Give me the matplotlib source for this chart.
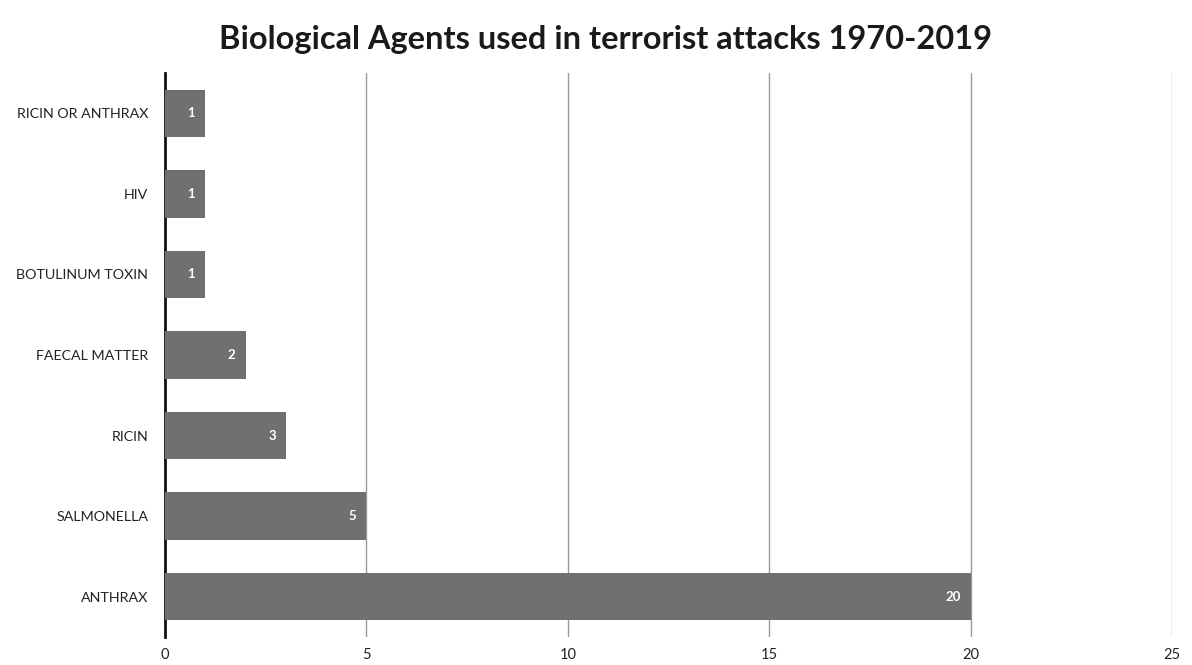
import matplotlib.pyplot as plt

# agents, bottom to top as drawn
agents = ['ANTHRAX', 'SALMONELLA', 'RICIN', 'FAECAL MATTER',
          'BOTULINUM TOXIN', 'HIV', 'RICIN OR ANTHRAX']
counts = [20, 5, 3, 2, 1, 1, 1]
xticks = [0, 5, 10, 15, 20, 25]

plt.rcParams['font.family'] = ['Lato', 'DejaVu Sans']

fig = plt.figure(figsize=(11.92, 6.65), dpi=100)
ax = fig.add_axes([0.1384, 0.0421, 0.8448, 0.8481])

ypos = list(range(len(agents)))
bars = ax.barh(ypos, counts, height=0.59, color='#707070', zorder=3)

for y, v in zip(ypos, counts):
    ax.text(v - 0.25, y, str(v), ha='right', va='center', color='white',
            fontsize=9.5, fontweight='bold', zorder=4)

ax.set_xlim(0, 25)
ax.set_ylim(-0.5, 6.5)
ax.set_yticks(ypos)
ax.set_yticklabels(agents, fontsize=10.3, color='#222222')
ax.set_xticks(xticks)
ax.set_xticklabels([str(t) for t in xticks], fontsize=10.5, color='#222222')
ax.tick_params(axis='both', length=0)
ax.tick_params(axis='x', pad=8)
ax.tick_params(axis='y', pad=12)

for t in xticks[1:]:
    ax.axvline(t, color='#9a9a9a', lw=1, zorder=1)

for s in ['top', 'right', 'bottom']:
    ax.spines[s].set_visible(False)
ax.spines['left'].set_color('#111111')
ax.spines['left'].set_linewidth(2)

fig.text(0.508, 0.94, 'Biological Agents used in terrorist attacks 1970-2019',
         ha='center', va='center', fontsize=23.5, fontweight='bold', color='#1a1a1a')

fig.savefig('out.png', dpi=100)
